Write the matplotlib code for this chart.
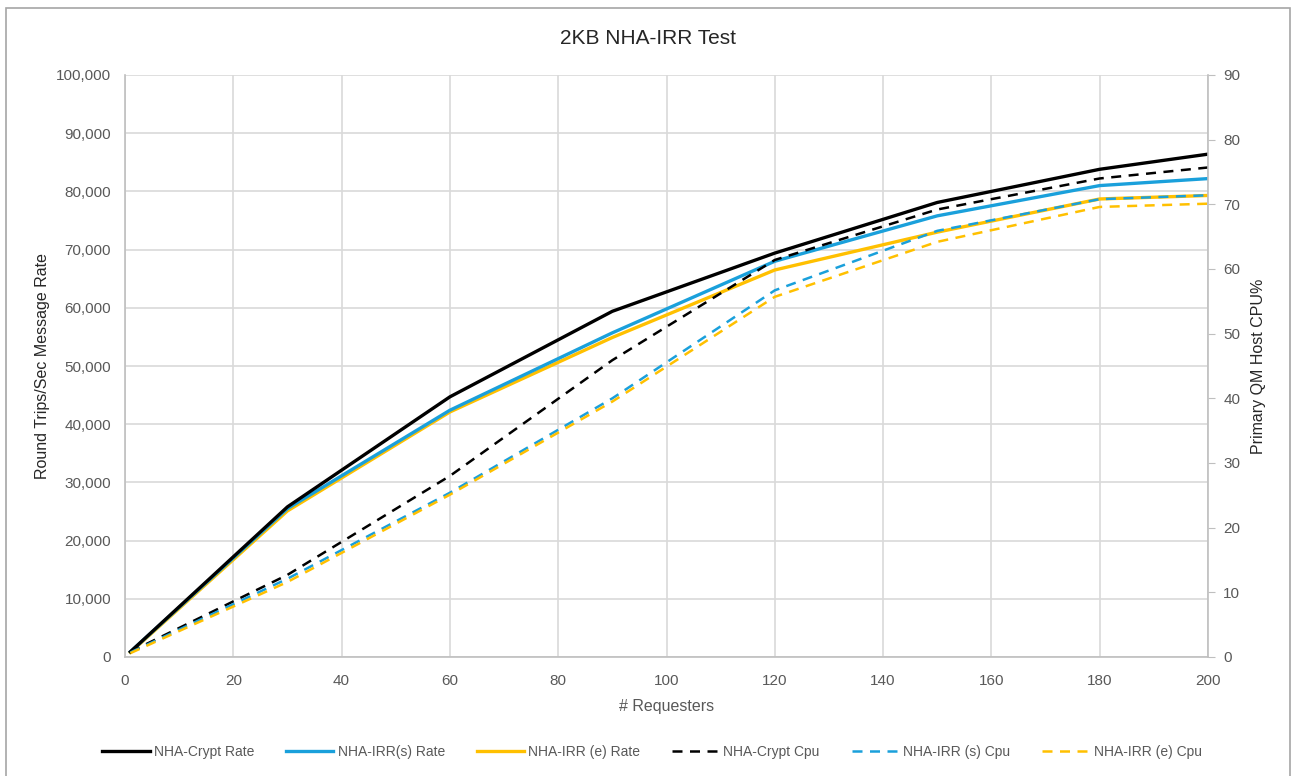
import matplotlib
matplotlib.use('Agg')
import matplotlib.pyplot as plt
from matplotlib.ticker import FuncFormatter, MultipleLocator

plt.rcParams['font.family'] = ['Liberation Sans Narrow', 'Liberation Sans', 'DejaVu Sans']

# data
requesters = [1, 30, 60, 90, 120, 150, 180, 200]

crypt_rate = [900, 25800, 44700, 59400, 69400, 78100, 83800, 86400]
irr_s_rate = [900, 25500, 42400, 55700, 68000, 75800, 81000, 82200]
irr_e_rate = [800, 25100, 42100, 54900, 66500, 73000, 78700, 79300]

crypt_cpu = [0.8, 12.7, 28.0, 45.9, 61.4, 69.2, 74.0, 75.7]
irr_s_cpu = [0.7, 12.1, 25.4, 40.0, 56.7, 65.9, 70.8, 71.4]
irr_e_cpu = [0.6, 11.6, 25.1, 39.5, 55.7, 64.2, 69.6, 70.1]

BLACK = '#000000'
BLUE = '#1AA0DB'
YELLOW = '#FFC000'
TXT = '#595959'
GRID = '#D9D9D9'
SPINE = '#BFBFBF'

fig = plt.figure(figsize=(12.95, 7.76), dpi=100)
ax = fig.add_axes([125 / 1295, 1 - 657 / 776, (1208 - 125) / 1295, (657 - 75) / 776])
ax2 = ax.twinx()

rate_lw = 2.4
cpu_lw = 1.8
dash = (0, (4, 3))

h1, = ax.plot(requesters, crypt_rate, color=BLACK, lw=rate_lw, label='NHA-Crypt Rate', zorder=6)
h2, = ax.plot(requesters, irr_s_rate, color=BLUE, lw=rate_lw, label='NHA-IRR(s) Rate', zorder=5)
h3, = ax.plot(requesters, irr_e_rate, color=YELLOW, lw=rate_lw, label='NHA-IRR (e) Rate', zorder=4)

h4, = ax2.plot(requesters, crypt_cpu, color=BLACK, lw=cpu_lw, ls=dash, label='NHA-Crypt Cpu')
h5, = ax2.plot(requesters, irr_s_cpu, color=BLUE, lw=cpu_lw, ls=dash, label='NHA-IRR (s) Cpu')
h6, = ax2.plot(requesters, irr_e_cpu, color=YELLOW, lw=cpu_lw, ls=dash, label='NHA-IRR (e) Cpu')

ax.set_xlim(0, 200)
ax.set_ylim(0, 100000)
ax2.set_ylim(0, 90)
ax.xaxis.set_major_locator(MultipleLocator(20))
ax.yaxis.set_major_locator(MultipleLocator(10000))
ax2.yaxis.set_major_locator(MultipleLocator(10))
ax.yaxis.set_major_formatter(FuncFormatter(lambda v, p: f'{int(v):,}'))

ax.grid(True, color=GRID, lw=1.2)
ax.set_axisbelow(True)

for a in (ax, ax2):
    for s in a.spines.values():
        s.set_visible(False)
for a, side in ((ax, 'bottom'), (ax, 'left'), (ax2, 'right')):
    a.spines[side].set_visible(True)
    a.spines[side].set_color(SPINE)
    a.spines[side].set_linewidth(1.2)

ax.tick_params(axis='both', length=0, colors=TXT, labelsize=11, pad=10)
ax.tick_params(axis='x', pad=12)
ax2.tick_params(axis='y', length=5, color=SPINE, labelcolor=TXT, labelsize=11, pad=6)

ax.set_xlabel('# Requesters', color=TXT, fontsize=11.5, labelpad=8)
ax.set_ylabel('Round Trips/Sec Message Rate', color='#262626', fontsize=11.5, labelpad=4)
ax2.set_ylabel('Primary QM Host CPU%', color='#262626', fontsize=11.5, labelpad=8)

fig.text(0.5, 1 - 38 / 776, '2KB NHA-IRR Test', ha='center', va='center',
         fontsize=15, color='#262626')

fig.legend(handles=[h1, h2, h3, h4, h5, h6], loc='center', ncol=6,
           bbox_to_anchor=(652 / 1295, 1 - 752 / 776), frameon=False,
           fontsize=10, labelcolor=TXT, handlelength=3.4, handletextpad=0.3,
           columnspacing=2.3)

# light outer chart border
fig.patches.append(plt.Rectangle((6 / 1295, -0.02), 1284 / 1295, 1 - 8 / 776 + 0.02,
                                 transform=fig.transFigure, fill=False,
                                 edgecolor='#A6A6A6', lw=1.2))

fig.savefig('out.png', dpi=100)
